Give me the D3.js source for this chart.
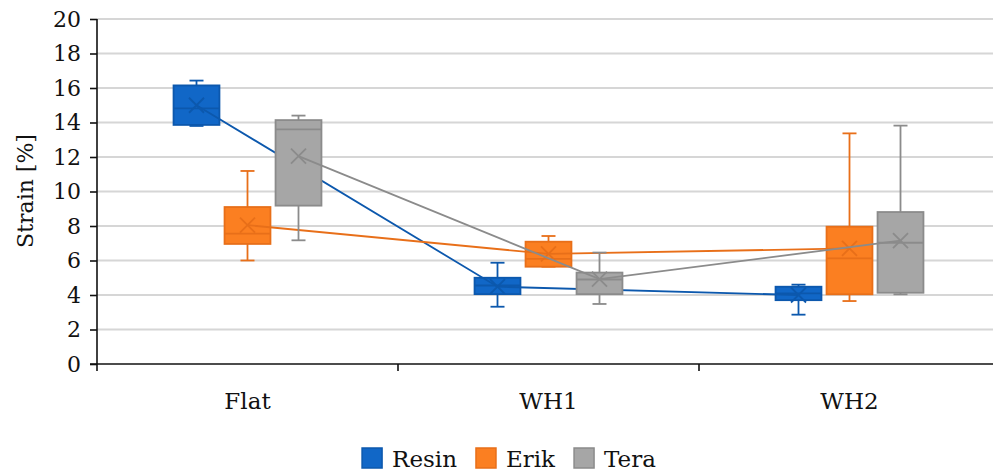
<!DOCTYPE html>
<html>
<head>
<meta charset="utf-8">
<script src="https://cdn.jsdelivr.net/npm/d3@7"></script>
<style>
  html, body { margin: 0; padding: 0; background: #fff; }
  svg { display: block; }
  text { font-family: "DejaVu Serif", serif; fill: #111; }
</style>
</head>
<body>
<svg id="chart" width="993" height="473"></svg>
<script>
// Categories and series
const categories = ["Flat", "WH1", "WH2"];
const seriesNames = ["Resin", "Erik", "Tera"];
const yTicks = [0, 2, 4, 6, 8, 10, 12, 14, 16, 18, 20];

// Box statistics per series, one value per category (Flat, WH1, WH2)
const resinMin    = [13.80, 3.32, 2.86];
const resinQ1     = [13.86, 4.05, 3.70];
const resinMedian = [14.82, 4.55, 4.10];
const resinQ3     = [16.15, 5.00, 4.48];
const resinMax    = [16.43, 5.87, 4.60];
const resinMean   = [15.00, 4.48, 4.00];

const erikMin    = [6.00, 5.64, 3.65];
const erikQ1     = [6.96, 5.64, 4.04];
const erikMedian = [7.56, 6.10, 6.12];
const erikQ3     = [9.10, 7.09, 7.96];
const erikMax    = [11.19, 7.42, 13.37];
const erikMean   = [8.05, 6.38, 6.70];

const teraMin    = [7.17, 3.48, 4.04];
const teraQ1     = [9.18, 4.05, 4.13];
const teraMedian = [13.60, 4.90, 7.03];
const teraQ3     = [14.14, 5.30, 8.81];
const teraMax    = [14.40, 6.46, 13.82];
const teraMean   = [12.05, 4.92, 7.15];

// Colours per series
const fillColors   = { Resin: "#1167c7", Erik: "#fb7f21", Tera: "#a6a6a6" };
const strokeColors = { Resin: "#0c58ad", Erik: "#e86f19", Tera: "#8b8b8b" };

const statsBySeries = {
  Resin: { min: resinMin, q1: resinQ1, median: resinMedian, q3: resinQ3, max: resinMax, mean: resinMean },
  Erik:  { min: erikMin,  q1: erikQ1,  median: erikMedian,  q3: erikQ3,  max: erikMax,  mean: erikMean },
  Tera:  { min: teraMin,  q1: teraQ1,  median: teraMedian,  q3: teraQ3,  max: teraMax,  mean: teraMean }
};

const FONT = "DejaVu Serif";
const svg = d3.select("#chart");

// Plot geometry
const plotLeft = 97, plotRight = 1000, plotTop = 19, plotBottom = 364;
const sw = 1.8;

const y = d3.scaleLinear().domain([0, 20]).range([plotBottom, plotTop]);
const x = d3.scaleBand().domain(categories).range([plotLeft, plotRight]);
const bw = x.bandwidth();
const xInner = d3.scaleBand()
  .domain(seriesNames)
  .range([bw / 2 - 76.5, bw / 2 + 76.5])
  .paddingInner(0.1)
  .paddingOuter(0.05);
const boxW = xInner.bandwidth();

// Horizontal gridlines
svg.append("g")
  .selectAll("line")
  .data(yTicks.filter(d => d > 0))
  .join("line")
  .attr("x1", plotLeft).attr("x2", plotRight)
  .attr("y1", d => y(d)).attr("y2", d => y(d))
  .attr("stroke", "#d6d6d6")
  .attr("stroke-width", 1.8);

// Series: boxes, whiskers, mean line, mean markers
seriesNames.forEach(name => {
  const s = statsBySeries[name];
  const g = svg.append("g").attr("class", "series-" + name);
  const rows = categories.map((c, i) => ({
    cat: c,
    cx: x(c) + xInner(name) + boxW / 2,
    min: s.min[i], q1: s.q1[i], median: s.median[i], q3: s.q3[i], max: s.max[i], mean: s.mean[i]
  }));
  const capHalf = 7;
  const stroke = strokeColors[name];

  // whiskers with caps
  rows.forEach(r => {
    [[r.q3, r.max], [r.q1, r.min]].forEach(([from, to]) => {
      g.append("line")
        .attr("x1", r.cx).attr("x2", r.cx)
        .attr("y1", y(from)).attr("y2", y(to))
        .attr("stroke", stroke).attr("stroke-width", sw);
      g.append("line")
        .attr("x1", r.cx - capHalf).attr("x2", r.cx + capHalf)
        .attr("y1", y(to)).attr("y2", y(to))
        .attr("stroke", stroke).attr("stroke-width", sw);
    });
  });

  // boxes
  g.selectAll("rect.box")
    .data(rows)
    .join("rect")
    .attr("class", "box")
    .attr("x", d => d.cx - boxW / 2)
    .attr("y", d => y(d.q3))
    .attr("width", boxW)
    .attr("height", d => y(d.q1) - y(d.q3))
    .attr("fill", fillColors[name])
    .attr("stroke", stroke)
    .attr("stroke-width", sw);

  // medians
  g.selectAll("line.median")
    .data(rows)
    .join("line")
    .attr("class", "median")
    .attr("x1", d => d.cx - boxW / 2).attr("x2", d => d.cx + boxW / 2)
    .attr("y1", d => y(d.median)).attr("y2", d => y(d.median))
    .attr("stroke", stroke)
    .attr("stroke-width", sw);

  // line through means
  g.append("path")
    .datum(rows)
    .attr("fill", "none")
    .attr("stroke", stroke)
    .attr("stroke-width", sw)
    .attr("d", d3.line().x(d => d.cx).y(d => y(d.mean)));

  // mean markers (x)
  const m = 7.5;
  g.selectAll("path.mean")
    .data(rows)
    .join("path")
    .attr("class", "mean")
    .attr("fill", "none")
    .attr("stroke", stroke)
    .attr("stroke-width", sw)
    .attr("d", d => {
      const cx = d.cx, cy = y(d.mean);
      return `M${cx - m},${cy - m}L${cx + m},${cy + m}M${cx - m},${cy + m}L${cx + m},${cy - m}`;
    });
});

// Y axis
const yAxis = svg.append("g")
  .attr("transform", `translate(${plotLeft},0)`)
  .call(d3.axisLeft(y).tickValues(yTicks).tickSize(7).tickPadding(9).tickFormat(d3.format("d")));
yAxis.attr("font-family", FONT);
yAxis.select(".domain").attr("stroke", "#111").attr("stroke-width", 1.6)
  .attr("d", `M0,${plotTop}V${plotBottom}`);
yAxis.selectAll(".tick line").attr("stroke", "#111").attr("stroke-width", 1.6);
yAxis.selectAll(".tick text")
  .attr("font-size", 22)
  .attr("font-family", FONT)
  .attr("fill", "#111");

// X axis
const xAxis = svg.append("g").attr("class", "x-axis");
xAxis.append("line")
  .attr("x1", plotLeft - 7).attr("x2", plotRight)
  .attr("y1", plotBottom).attr("y2", plotBottom)
  .attr("stroke", "#111").attr("stroke-width", 1.6);
xAxis.selectAll("line.tick")
  .data(categories.map(c => x(c)).concat([plotRight]))
  .join("line")
  .attr("class", "tick")
  .attr("x1", d => d).attr("x2", d => d)
  .attr("y1", plotBottom).attr("y2", plotBottom + 7)
  .attr("stroke", "#111").attr("stroke-width", 1.6);
xAxis.selectAll("text")
  .data(categories)
  .join("text")
  .attr("x", d => x(d) + bw / 2)
  .attr("y", 409)
  .attr("text-anchor", "middle")
  .attr("font-family", FONT)
  .attr("font-size", 23)
  .text(d => d);

// Y axis title
svg.append("text")
  .attr("transform", "translate(33,191) rotate(-90)")
  .attr("text-anchor", "middle")
  .attr("font-family", FONT)
  .attr("font-size", 22)
  .text("Strain [%]");

// Legend
const legend = svg.append("g").attr("class", "legend");
let lx = 0;
seriesNames.forEach(name => {
  const item = legend.append("g").attr("transform", `translate(${lx},0)`);
  item.append("rect")
    .attr("x", 0).attr("y", 0).attr("width", 20).attr("height", 20)
    .attr("fill", fillColors[name])
    .attr("stroke", strokeColors[name])
    .attr("stroke-width", 1.5);
  const t = item.append("text")
    .attr("x", 30).attr("y", 19)
    .attr("font-family", FONT)
    .attr("font-size", 23)
    .text(name);
  lx += 30 + t.node().getComputedTextLength() + 19;
});
const legendW = lx - 19;
legend.attr("transform", `translate(${509 - legendW / 2},448)`);
</script>
</body>
</html>
